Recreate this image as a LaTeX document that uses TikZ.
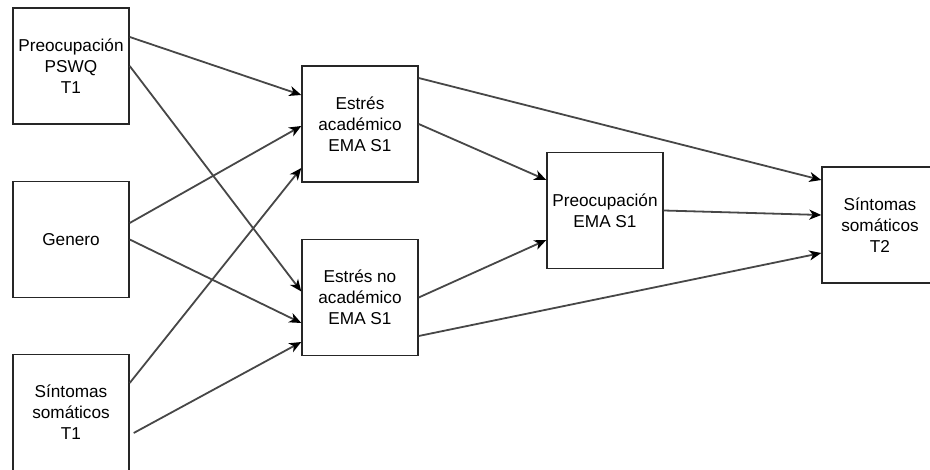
\documentclass[tikz,border=0pt]{standalone}
\usepackage{fontspec}
\setmainfont{Liberation Sans}
\usetikzlibrary{arrows.meta}
\tikzset{
  box/.style={draw=black!85, line width=1.4pt, minimum width=116pt, minimum height=116pt,
    inner sep=0pt, align=center, font=\fontsize{17.2}{21}\selectfont},
  conn/.style={draw=black!72, line width=1.8pt,
    -{Stealth[length=12pt,width=10pt,inset=3.5pt,color=black]}},
}
\begin{document}
\begin{tikzpicture}[x=1pt,y=-1pt]
\useasboundingbox (0,0) rectangle (930,470);
\clip (0,0) rectangle (930,470);
\node[box] (pswq) at (71,66) {Preocupación\\PSWQ\\T1};
\node[box] (gen) at (71,239.5) {Genero};
\node[box] (sst1) at (71,412.5) {Síntomas\\somáticos\\T1};
\node[box] (ea) at (360,124) {Estrés\\académico\\EMA S1};
\node[box] (ena) at (360,297.5) {Estrés no\\académico\\EMA S1};
\node[box] (pe) at (605,210.5) {Preocupación\\EMA S1};
\node[box] (t2) at (880,225) {Síntomas\\somáticos\\T2};
\draw[conn] ([yshift=29pt]pswq.east) -- ([yshift=29pt]ea.west);
\draw[conn] (pswq.east) -- ([yshift=6pt]ena.west);
\draw[conn] ([yshift=16.5pt]gen.east) -- ([yshift=-2pt]ea.west);
\draw[conn] (gen.east) -- ([yshift=-25.5pt]ena.west);
\draw[conn] ([yshift=29.5pt]sst1.east) -- ([yshift=-44pt]ea.west);
\draw[conn] ([xshift=4pt,yshift=-20.5pt]sst1.east) -- ([yshift=-44.5pt]ena.west);
\draw[conn] (ea.east) -- ([yshift=30.5pt]pe.west);
\draw[conn] (ena.east) -- ([yshift=-29.5pt]pe.west);
\draw[conn] ([yshift=46pt]ea.east) -- ([yshift=45pt]t2.west);
\draw[conn] (pe.east) -- ([yshift=10pt]t2.west);
\draw[conn] ([yshift=-38.5pt]ena.east) -- ([yshift=-28pt]t2.west);
\end{tikzpicture}
\end{document}
